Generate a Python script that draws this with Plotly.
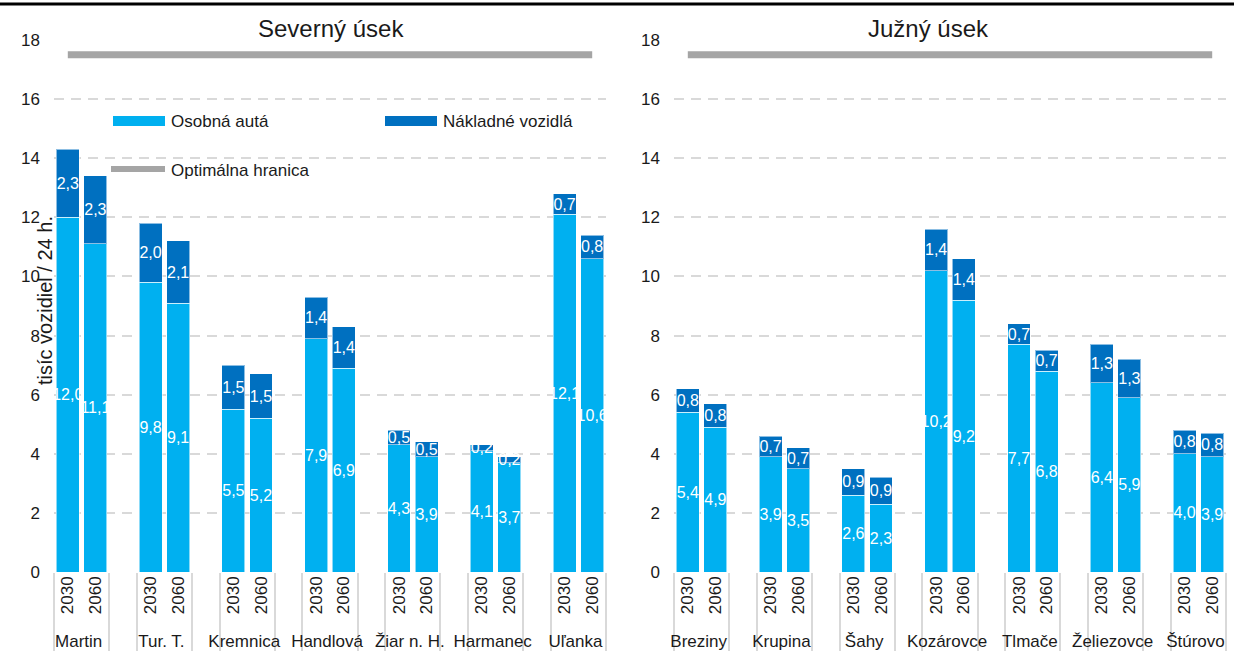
import plotly.graph_objects as go

# ---------------- data ----------------
north_title = "Severný úsek"
south_title = "Južný úsek"
years = ["2030", "2060"]

north_names = ["Martin", "Tur. T.", "Kremnica", "Handlová", "Žiar n. H.", "Harmanec", "Uľanka"]
north_cars_2030 = [12.0, 9.8, 5.5, 7.9, 4.3, 4.1, 12.1]
north_cars_2060 = [11.1, 9.1, 5.2, 6.9, 3.9, 3.7, 10.6]
north_trucks_2030 = [2.3, 2.0, 1.5, 1.4, 0.5, 0.2, 0.7]
north_trucks_2060 = [2.3, 2.1, 1.5, 1.4, 0.5, 0.2, 0.8]

south_names = ["Breziny", "Krupina", "Šahy", "Kozárovce", "Tlmače", "Želiezovce", "Štúrovo"]
south_cars_2030 = [5.4, 3.9, 2.6, 10.2, 7.7, 6.4, 4.0]
south_cars_2060 = [4.9, 3.5, 2.3, 9.2, 6.8, 5.9, 3.9]
south_trucks_2030 = [0.8, 0.7, 0.9, 1.4, 0.7, 1.3, 0.8]
south_trucks_2060 = [0.8, 0.7, 0.9, 1.4, 0.7, 1.3, 0.8]

optimum = 17.5
y_ticks = list(range(0, 19, 2))

series_names = ["Osobná autá", "Nákladné vozidlá", "Optimálna hranica"]
y_title = "tisíc vozidiel / 24 h."

# ---------------- style ----------------
FONT = "Liberation Sans, Arial, sans-serif"
C_CARS = "#00B0F0"
C_TRUCKS = "#0070C0"
C_LIMIT = "#A5A5A5"
C_GRID = "#D9D9D9"
TXT = "#1a1a1a"
W, H = 1234, 652


def px_x(p):
    return p / W


def px_y(p):
    return 1 - p / H


def build_slots(names, c30, c60, t30, t60):
    groups, inner, cars, trucks = [], [], [], []
    for i, n in enumerate(names):
        groups += [n, n]
        inner += years
        cars += [c30[i], c60[i]]
        trucks += [t30[i], t60[i]]
        if i < len(names) - 1:
            groups.append(" " * (i + 1))
            inner.append(" ")
            cars.append(None)
            trucks.append(None)
    return [groups, inner], cars, trucks


fig = go.Figure()

panels = [
    ("x", "y", build_slots(north_names, north_cars_2030, north_cars_2060, north_trucks_2030, north_trucks_2060)),
    ("x2", "y2", build_slots(south_names, south_cars_2030, south_cars_2060, south_trucks_2030, south_trucks_2060)),
]

for xa, ya, (xcats, cars, trucks) in panels:
    for vals, color, nm in [(cars, C_CARS, series_names[0]), (trucks, C_TRUCKS, series_names[1])]:
        fig.add_trace(go.Bar(
            x=xcats, y=vals, name=nm, xaxis=xa, yaxis=ya,
            marker=dict(color=color, line=dict(color="rgba(255,255,255,0.55)", width=1)),
            texttemplate="%{y:.1f}", textposition="inside", insidetextanchor="middle",
            textangle=0, constraintext="none",
            textfont=dict(family=FONT, size=16, color="white"),
            showlegend=False, hoverinfo="skip",
        ))
    fig.add_trace(go.Scatter(
        x=xcats, y=[optimum] * len(cars), mode="lines", name=series_names[2],
        xaxis=xa, yaxis=ya, line=dict(color=C_LIMIT, width=7),
        showlegend=False, hoverinfo="skip",
    ))

xdom1 = [px_x(54), px_x(606)]
xdom2 = [px_x(674), px_x(1226)]
ydom = [px_y(572), px_y(40)]

xax = dict(
    type="multicategory", tickangle=-90, automargin=False,
    tickfont=dict(family=FONT, size=17, color=TXT),
    showdividers=True, dividercolor=C_GRID, dividerwidth=1.5,
    showgrid=False, showline=False, zeroline=False, fixedrange=True,
)
yax = dict(
    range=[0, 18], tickvals=y_ticks, showgrid=True, gridcolor=C_GRID, gridwidth=1.5,
    griddash="10px,7px", zeroline=False, showline=False, automargin=False,
    tickfont=dict(family=FONT, size=17, color=TXT), ticklabelstandoff=13,
    fixedrange=True,
)

fig.update_layout(
    width=W, height=H,
    margin=dict(l=0, r=0, t=0, b=0, autoexpand=False),
    paper_bgcolor="white", plot_bgcolor="white",
    barmode="stack", bargap=0.17,
    separators=", ",
    uniformtext=dict(mode="show", minsize=16),
    font=dict(family=FONT, size=17, color=TXT),
    xaxis=dict(domain=xdom1, anchor="y", **xax),
    xaxis2=dict(domain=xdom2, anchor="y2", **xax),
    yaxis=dict(domain=ydom, anchor="x", **yax),
    yaxis2=dict(domain=ydom, anchor="x2", **yax),
    showlegend=False,
)

annotations = [
    dict(text=north_title, x=px_x(331), y=px_y(29), xref="paper", yref="paper",
         showarrow=False, font=dict(family=FONT, size=24, color=TXT), xanchor="center", yanchor="middle"),
    dict(text=south_title, x=px_x(928), y=px_y(29), xref="paper", yref="paper",
         showarrow=False, font=dict(family=FONT, size=24, color=TXT), xanchor="center", yanchor="middle"),
    dict(text=y_title, x=px_x(45), y=px_y(300), xref="paper", yref="paper", textangle=-90,
         showarrow=False, font=dict(family=FONT, size=20, color=TXT), xanchor="center", yanchor="middle"),
    dict(text=series_names[0], x=px_x(169), y=px_y(121), xref="paper", yref="paper",
         showarrow=False, font=dict(family=FONT, size=17, color=TXT), xanchor="left", yanchor="middle"),
    dict(text=series_names[1], x=px_x(441), y=px_y(121), xref="paper", yref="paper",
         showarrow=False, font=dict(family=FONT, size=17, color=TXT), xanchor="left", yanchor="middle"),
    dict(text=series_names[2], x=px_x(169), y=px_y(170), xref="paper", yref="paper",
         showarrow=False, font=dict(family=FONT, size=17, color=TXT), xanchor="left", yanchor="middle"),
]
fig.update_layout(annotations=annotations)

shapes = [
    # top rule
    dict(type="line", xref="paper", yref="paper", x0=0, x1=1, y0=px_y(4), y1=px_y(4),
         line=dict(color="black", width=3)),
    # legend swatches
    dict(type="rect", xref="paper", yref="paper", x0=px_x(113), x1=px_x(165), y0=px_y(126), y1=px_y(116),
         fillcolor=C_CARS, line=dict(width=0)),
    dict(type="rect", xref="paper", yref="paper", x0=px_x(385), x1=px_x(437), y0=px_y(126), y1=px_y(116),
         fillcolor=C_TRUCKS, line=dict(width=0)),
    dict(type="line", xref="paper", yref="paper", x0=px_x(111), x1=px_x(165), y0=px_y(169), y1=px_y(169),
         line=dict(color=C_LIMIT, width=6)),
]
fig.update_layout(shapes=shapes)

fig.write_html("out.html")
